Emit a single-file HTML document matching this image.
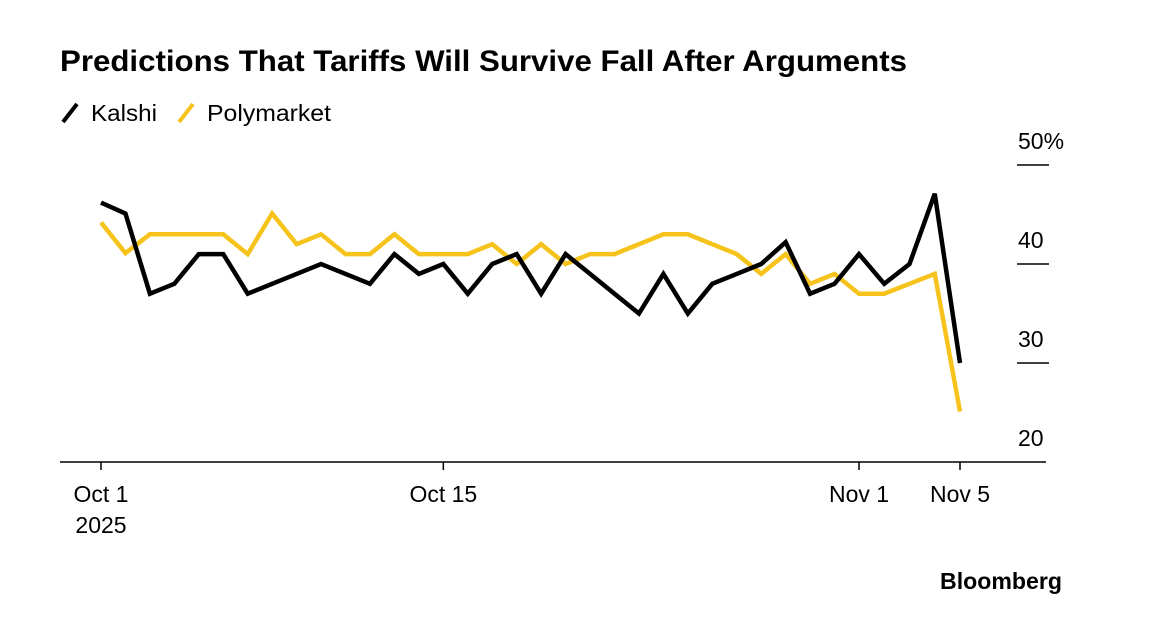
<!DOCTYPE html>
<html><head><meta charset="utf-8"><style>
body{margin:0;background:#fff;font-family:"Liberation Sans",sans-serif;}
svg{display:block}
</style></head><body>
<svg width="1156" height="622" id="c">
<text x="60" y="71" font-size="30" font-weight="bold" fill="#000" textLength="847" lengthAdjust="spacingAndGlyphs">Predictions That Tariffs Will Survive Fall After Arguments</text>
<g>
<line x1="63" y1="122" x2="77" y2="104" stroke="#000" stroke-width="4"/>
<text x="91" y="121" font-size="23" textLength="66" lengthAdjust="spacingAndGlyphs">Kalshi</text>
<line x1="179" y1="122" x2="193" y2="104" stroke="#f6c31c" stroke-width="4"/>
<text x="207" y="121" font-size="23" textLength="124" lengthAdjust="spacingAndGlyphs">Polymarket</text>
</g>
<g id="axes"></g>
<g id="series"></g>
<text x="1062" y="589" font-size="23" font-weight="bold" text-anchor="end" textLength="122" lengthAdjust="spacingAndGlyphs">Bloomberg</text>
</svg>
<script>
const kalshi=[46.2,45.1,37,38,41,41,37,38,39,40,39,38,41,39,40,37,40,41,37,41,39,37,35,39,35,38,39,40,42.2,37,38,41,38,40,47.1,30];
const polymarket=[44.2,41.1,43,43,43,43,41,45.1,42,43,41,41,43,41,41,41,42,40,42,40,41,41,42,43,43,42,41,39,41,38,39,37,37,38,39,25.1];
const yTicks=[20,30,40,50];
const yTickLabels=["20","30","40","50%"];
const xTickDays=[0,14,31,35];
const xTickLabels=["Oct 1","Oct 15","Nov 1","Nov 5"];
const ns="http://www.w3.org/2000/svg";
const x=d=>d<=31?101+d*(859-101)/31:859+(d-31)*(960-859)/4;
const y=v=>462-(v-20)*9.9;
const ax=document.getElementById('axes'),se=document.getElementById('series');
function mk(tag,attrs,parent){const e=document.createElementNS(ns,tag);for(const k in attrs)e.setAttribute(k,attrs[k]);parent.appendChild(e);return e;}
const base=mk('line',{x1:60,x2:1046,y1:462,y2:462,stroke:'#000','stroke-width':1.5},ax);


yTicks.forEach((t,i)=>{
  if(t>20){const g=mk('line',{x1:1017,x2:1049,y1:y(t),y2:y(t),stroke:'#000','stroke-width':1.5},ax);
  
  }
  const tx=mk('text',{x:1018,y:y(t)-16,'font-size':23},ax);tx.textContent=yTickLabels[i];
  
  
});
xTickDays.forEach((d,i)=>{
  const tk=mk('line',{x1:x(d),x2:x(d),y1:462,y2:470,stroke:'#000','stroke-width':1.5},ax);
  
  
  const tx=mk('text',{x:x(d),y:502,'font-size':23,'text-anchor':'middle'},ax);tx.textContent=xTickLabels[i];
  
  
});
const yr=mk('text',{x:x(0),y:533,'font-size':23,'text-anchor':'middle'},ax);yr.textContent="2025";


function line(arr,color,name){
  const p=mk('polyline',{points:arr.map((v,i)=>x(i)+','+y(v)).join(' '),fill:'none',stroke:color,'stroke-width':4.5,'stroke-linejoin':'miter'},se);
  
  
}
line(polymarket,'#f6c31c','polymarket-line');
line(kalshi,'#000','kalshi-line');
</script>
</body></html>
